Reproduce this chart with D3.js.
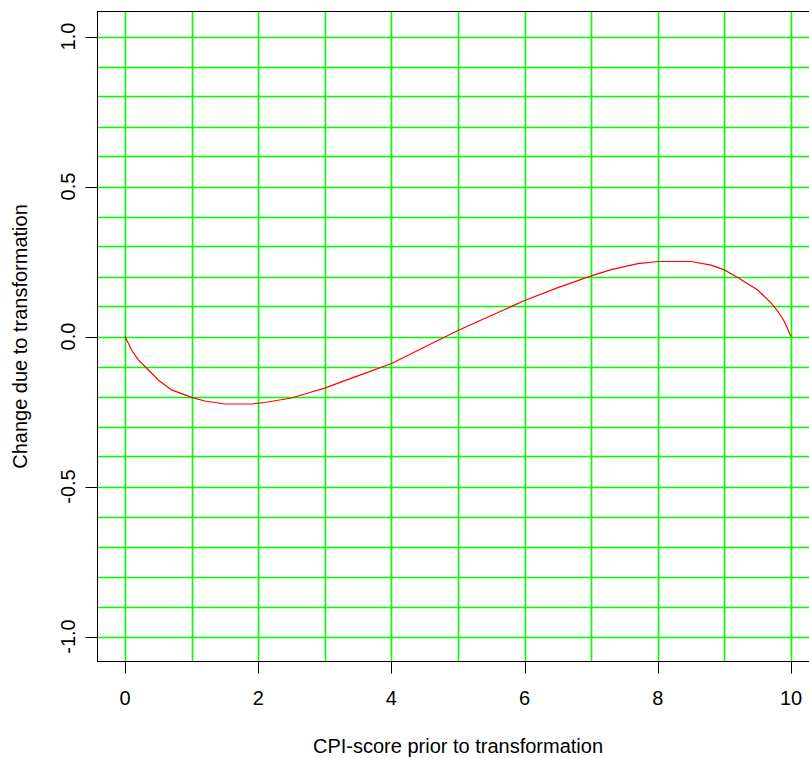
<!DOCTYPE html>
<html>
<head>
<meta charset="utf-8">
<script src="https://cdn.jsdelivr.net/npm/d3@7"></script>
<style>
body { margin: 0; background: #fff; }
text { font-family: "Liberation Sans", Arial, sans-serif; fill: #000; }
</style>
</head>
<body>
<div id="graph"></div>
<script>
// CPI-score before transformation and the change it gets
var cpi = [0, 0.1, 0.2, 0.3, 0.5, 0.7, 1.0, 1.2, 1.5, 1.9, 2.1, 2.5, 2.8, 3.0, 3.3, 3.6, 4.0, 4.5,
           5.0, 5.5, 6.0, 6.5, 7.0, 7.3, 7.7, 8.0, 8.5, 8.8, 9.0, 9.2, 9.5, 9.7, 9.8, 9.9, 10.0]
var change = [0, -0.045, -0.078, -0.100, -0.145, -0.178, -0.203, -0.215, -0.225, -0.225, -0.220,
              -0.205, -0.185, -0.172, -0.147, -0.123, -0.090, -0.035, 0.020, 0.070, 0.120, 0.163,
              0.202, 0.223, 0.243, 0.250, 0.250, 0.238, 0.222, 0.197, 0.155, 0.112, 0.085, 0.050, 0]

var xTicks = [0, 2, 4, 6, 8, 10]
var yTicks = [-1.0, -0.5, 0.0, 0.5, 1.0]
var xGrid = d3.range(0, 11, 1)
var yGrid = d3.range(-10, 11, 1).map(function(d) { return d / 10 })

var xLabel = "CPI-score prior to transformation"
var yLabel = "Change due to transformation"

var width = 809, height = 758

var svg = d3.select("#graph").append("svg")
    .attr("width", width).attr("height", height)

var x = d3.scaleLinear().domain([0, 10]).range([125, 791])
var y = d3.scaleLinear().domain([-1, 1]).range([636.5, 36.5])

// plot region, R style 4% padding
var boxL = Math.round(x(-0.4)) - 0.5, boxR = Math.round(x(10.4)) + 0.5
var boxT = Math.round(y(1.08)) - 0.5, boxB = Math.round(y(-1.08)) + 0.5

function px(v) { return Math.round(v) + 0.5 }

var grid = svg.append("g").attr("class", "grid")

grid.selectAll("line.v")
    .data(xGrid)
    .enter().append("line")
    .attr("class", "v")
    .attr("x1", function(d) { return px(x(d)) })
    .attr("x2", function(d) { return px(x(d)) })
    .attr("y1", boxT).attr("y2", boxB)
    .attr("stroke", "#00ff00").attr("stroke-width", 1.6)

grid.selectAll("line.h")
    .data(yGrid)
    .enter().append("line")
    .attr("class", "h")
    .attr("y1", function(d) { return px(y(d)) })
    .attr("y2", function(d) { return px(y(d)) })
    .attr("x1", boxL).attr("x2", boxR)
    .attr("stroke", "#00ff00").attr("stroke-width", 1.6)

var line = d3.line()
    .x(function(d, i) { return x(cpi[i]) })
    .y(function(d) { return y(d) })

svg.append("path")
    .datum(change)
    .attr("d", line)
    .attr("fill", "none")
    .attr("stroke", "#ff0000")
    .attr("stroke-width", 1.2)

// box
svg.append("rect")
    .attr("x", boxL).attr("y", boxT)
    .attr("width", boxR - boxL).attr("height", boxB - boxT)
    .attr("fill", "none").attr("stroke", "#000").attr("stroke-width", 1)

// x axis
var xAxis = svg.append("g").attr("class", "x axis")
xAxis.selectAll("line")
    .data(xTicks)
    .enter().append("line")
    .attr("x1", function(d) { return px(x(d)) })
    .attr("x2", function(d) { return px(x(d)) })
    .attr("y1", boxB).attr("y2", boxB + 12)
    .attr("stroke", "#000")
xAxis.selectAll("text")
    .data(xTicks)
    .enter().append("text")
    .attr("x", function(d) { return x(d) })
    .attr("y", 705)
    .attr("text-anchor", "middle")
    .style("font-size", "20px")
    .text(function(d) { return d })

// y axis
var yAxis = svg.append("g").attr("class", "y axis")
yAxis.selectAll("line")
    .data(yTicks)
    .enter().append("line")
    .attr("y1", function(d) { return px(y(d)) })
    .attr("y2", function(d) { return px(y(d)) })
    .attr("x1", boxL).attr("x2", boxL - 12)
    .attr("stroke", "#000")
yAxis.selectAll("text")
    .data(yTicks)
    .enter().append("text")
    .attr("transform", function(d) { return "translate(75," + y(d) + ") rotate(-90)" })
    .attr("text-anchor", "middle")
    .style("font-size", "20px")
    .text(function(d) { return d.toFixed(1) })

svg.append("text")
    .attr("x", x(5)).attr("y", 753)
    .attr("text-anchor", "middle")
    .style("font-size", "20px")
    .text(xLabel)

svg.append("text")
    .attr("transform", "translate(27," + y(0) + ") rotate(-90)")
    .attr("text-anchor", "middle")
    .style("font-size", "20px")
    .text(yLabel)
</script>
</body>
</html>
